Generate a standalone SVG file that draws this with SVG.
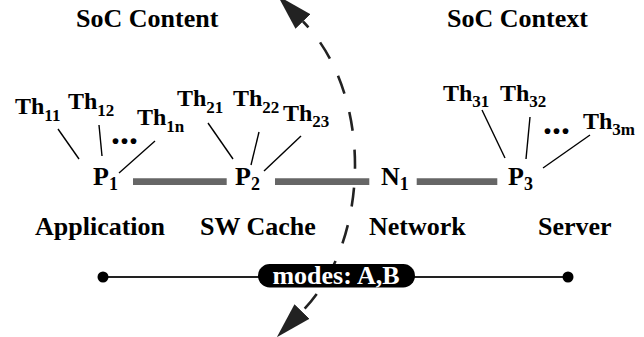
<svg xmlns="http://www.w3.org/2000/svg" width="644" height="337" viewBox="0 0 644 337">
<style>
text{font-family:"Liberation Serif","Times New Roman",serif;font-weight:bold;fill:#000;font-size:26px}
.t{font-size:24px}
.sub{font-size:17px}
.psub{font-size:18px}
.th{stroke:#000;stroke-width:1.4;fill:none}
.bar{stroke:#666;stroke-width:6.8;fill:none}
.dots{font-size:36px}
</style>
<defs>
<marker id="ah" markerUnits="userSpaceOnUse" markerWidth="40" markerHeight="26" viewBox="0 -13 40 26" refX="0" refY="0" orient="auto-start-reverse">
<path d="M0,-10.5 L36,0 L0,10.5 z" fill="#222" stroke="none"/>
</marker>
</defs>
<rect width="644" height="337" fill="#fff"/>
<text x="76" y="27">SoC Content</text>
<text x="447" y="27">SoC Context</text>
<g id="connectors">
<line class="th" x1="58" y1="129" x2="79" y2="159"/>
<line class="th" x1="99" y1="125" x2="102" y2="156"/>
<line class="th" x1="155" y1="141" x2="119" y2="173"/>
<line class="th" x1="208" y1="123" x2="233" y2="159"/>
<line class="th" x1="259" y1="132" x2="251" y2="165"/>
<line class="th" x1="301" y1="136" x2="264" y2="171"/>
<line class="th" x1="482" y1="110" x2="505" y2="158"/>
<line class="th" x1="530" y1="117" x2="526" y2="159"/>
<line class="th" x1="590" y1="135" x2="543" y2="168"/>
<line class="bar" x1="133" y1="181.7" x2="226.7" y2="181.7"/>
<line class="bar" x1="275" y1="181.7" x2="369.3" y2="181.7"/>
<line class="bar" x1="416.7" y1="181.7" x2="497.3" y2="181.7"/>
<path d="M303,21.5 C373,93 372,240 302,311.5" fill="none" stroke="#222" stroke-width="2.6" stroke-dasharray="19 19" stroke-dashoffset="11" marker-start="url(#ah)" marker-end="url(#ah)"/>
<line x1="103" y1="277" x2="568" y2="277" stroke="#222" stroke-width="2"/>
<circle cx="103" cy="277" r="5.5" fill="#000"/>
<circle cx="568" cy="277" r="5.5" fill="#000"/>
</g>
<g id="th11"><text class="t" x="15" y="114">Th<tspan class="sub" dy="7">11</tspan></text></g>
<g id="th12"><text class="t" x="68" y="109">Th<tspan class="sub" dy="7">12</tspan></text></g>
<g id="dots1"><text class="dots" x="111" y="144">...</text></g>
<g id="th1n"><text class="t" x="137" y="125">Th<tspan class="sub" dy="7">1n</tspan></text></g>
<g id="th21"><text class="t" x="177" y="106">Th<tspan class="sub" dy="7">21</tspan></text></g>
<g id="th22"><text class="t" x="233" y="106">Th<tspan class="sub" dy="7">22</tspan></text></g>
<g id="th23"><text class="t" x="283" y="121">Th<tspan class="sub" dy="6">23</tspan></text></g>
<g id="th31"><text class="t" x="443" y="101">Th<tspan class="sub" dy="6">31</tspan></text></g>
<g id="th32"><text class="t" x="500" y="101">Th<tspan class="sub" dy="6">32</tspan></text></g>
<g id="dots3"><text class="dots" x="543" y="134">...</text></g>
<g id="th3m"><text class="t" x="583" y="129">Th<tspan class="sub" dy="6">3m</tspan></text></g>
<g id="p1"><text x="93" y="185">P<tspan class="psub" dy="4.5">1</tspan></text></g>
<g id="p2"><text x="235" y="185">P<tspan class="psub" dy="4.5">2</tspan></text></g>
<g id="n1"><text x="381" y="185">N<tspan class="psub" dy="4.5">1</tspan></text></g>
<g id="p3"><text x="508" y="185">P<tspan class="psub" dy="4.5">3</tspan></text></g>
<g id="lbl-app"><text x="35" y="235">Application</text></g>
<g id="lbl-cache"><text x="200" y="235">SW Cache</text></g>
<g id="lbl-net"><text x="369" y="235">Network</text></g>
<g id="lbl-server"><text x="538" y="235">Server</text></g>
<g id="modes">
<rect x="258" y="264" width="157" height="23.5" rx="11.75" fill="#000"/>
<text x="336" y="284" text-anchor="middle" style="fill:#fff">modes: A,B</text>
</g>
</svg>
